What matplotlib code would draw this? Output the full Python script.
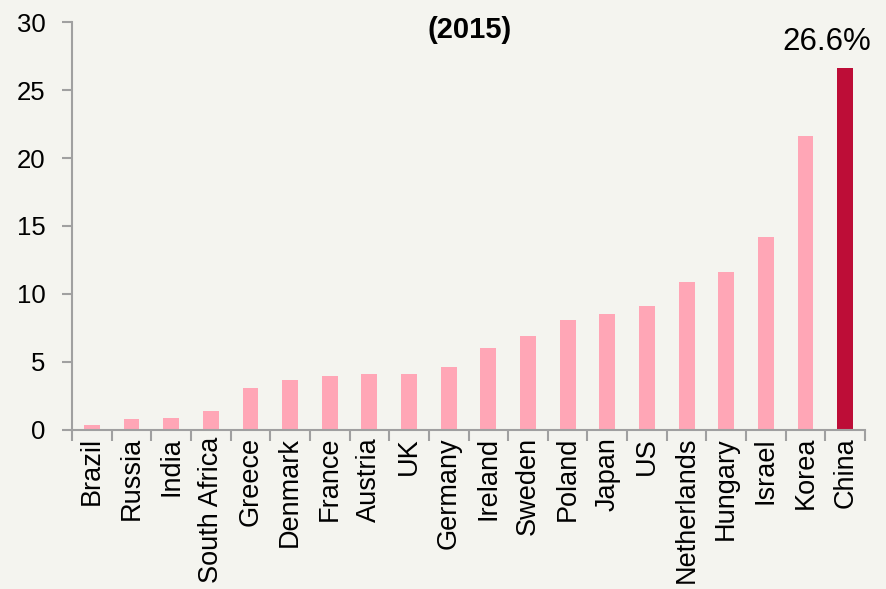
import numpy as np
import matplotlib
matplotlib.use('Agg')
import matplotlib.pyplot as plt

countries = ['Brazil', 'Russia', 'India', 'South Africa', 'Greece', 'Denmark', 'France',
             'Austria', 'UK', 'Germany', 'Ireland', 'Sweden', 'Poland', 'Japan', 'US',
             'Netherlands', 'Hungary', 'Israel', 'Korea', 'China']
values = [0.4, 0.8, 0.9, 1.4, 3.1, 3.7, 4.0, 4.1, 4.1, 4.6, 6.0, 6.9, 8.1, 8.5, 9.1,
          10.9, 11.6, 14.2, 21.6, 26.6]
highlight = 'China'
highlight_label = '26.6%'
yticks = [0, 5, 10, 15, 20, 25, 30]

plt.rcParams['font.family'] = ['Liberation Sans', 'DejaVu Sans']

bg = '#f4f4ef'
pink = '#ffa6b6'
red = '#bd0d37'
grey = '#a0a0a0'

fig = plt.figure(figsize=(8.87, 5.89), dpi=100, facecolor=bg)
ax = fig.add_axes([0.0812, 0.270, 0.894, 0.6926], facecolor=bg)

x = np.arange(len(countries))
colors = [red if c == highlight else pink for c in countries]
ax.bar(x, values, width=0.4, color=colors, zorder=2)

# label on the highlighted bar
i = countries.index(highlight)
ax.annotate(highlight_label, xy=(x[i], values[i]), xytext=(-18, 11),
            textcoords='offset pixels', ha='center', va='bottom', fontsize=22.5)

ax.set_xlim(-0.5, len(countries) - 0.5)
ax.set_ylim(0, 30)
ax.set_yticks(yticks)

ax.set_xticks(x)
ax.set_xticklabels(countries, rotation=90, fontsize=19.5)
ax.set_xticks(np.arange(len(countries) + 1) - 0.5, minor=True)
ax.tick_params(axis='x', which='major', length=0, pad=5)
ax.tick_params(axis='x', which='minor', length=8, width=1.5, color=grey, direction='out')
ax.tick_params(axis='y', length=7, width=1.5, color=grey, labelsize=18.5, pad=12)

for side in ['top', 'right']:
    ax.spines[side].set_visible(False)
for side in ['left', 'bottom']:
    ax.spines[side].set_color(grey)
    ax.spines[side].set_linewidth(1.5)

fig.text(0.530, 0.936, '(2015)', ha='center', va='baseline', fontsize=21, fontweight='bold')

fig.savefig('out.png', dpi=100, facecolor=bg)
